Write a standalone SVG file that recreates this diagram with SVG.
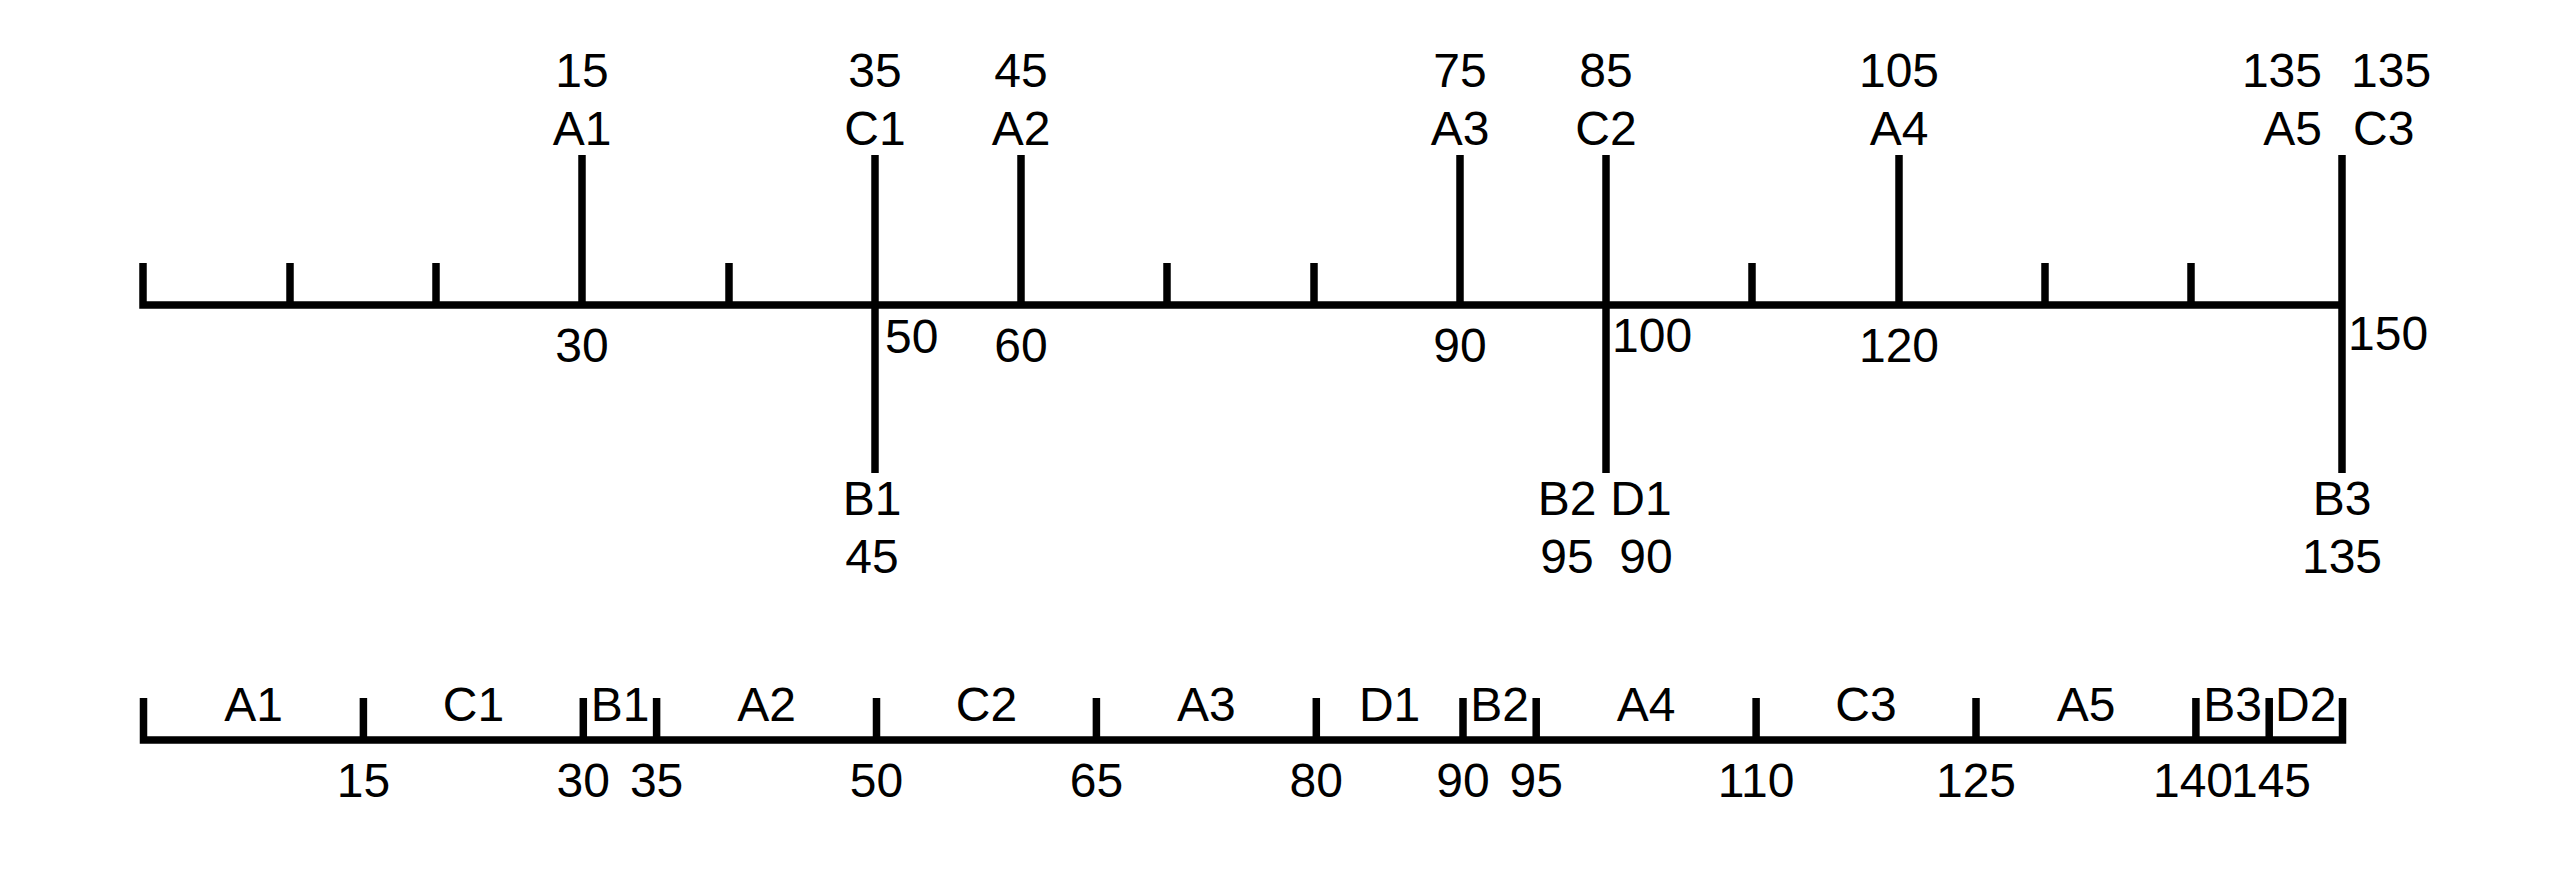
<svg xmlns="http://www.w3.org/2000/svg" width="2560" height="881" viewBox="0 0 2560 881">
<style>
.ln{stroke:#000;stroke-width:7.5;stroke-linejoin:miter;fill:none}
.tk{stroke:#000;stroke-width:7.5;fill:none}
text{font-family:"Liberation Sans",Arial,sans-serif;font-size:48px;fill:#000}
.c{text-anchor:middle}
.e{text-anchor:end}
.s{text-anchor:start}
</style>
<rect width="2560" height="881" fill="#fff"/>
<g id="connectors">
<polyline class="ln" points="143,263 143,305 2342,305"/>
<line class="tk" x1="290" y1="305" x2="290" y2="263"/>
<line class="tk" x1="436" y1="305" x2="436" y2="263"/>
<line class="tk" x1="729" y1="305" x2="729" y2="263"/>
<line class="tk" x1="1167" y1="305" x2="1167" y2="263"/>
<line class="tk" x1="1314" y1="305" x2="1314" y2="263"/>
<line class="tk" x1="1752" y1="305" x2="1752" y2="263"/>
<line class="tk" x1="2045" y1="305" x2="2045" y2="263"/>
<line class="tk" x1="2191" y1="305" x2="2191" y2="263"/>
</g>
<g id="A1"><line class="tk" x1="582" y1="155" x2="582" y2="305"/><text class="c" x="582" y="87">15</text><text class="c" x="582" y="144.5">A1</text><text class="c" x="582" y="362">30</text></g>
<g id="C1"><line class="tk" x1="875" y1="155" x2="875" y2="473"/><text class="c" x="875" y="87">35</text><text class="c" x="875" y="144.5">C1</text><text class="s" x="885" y="352.5">50</text><text class="c" x="872" y="515">B1</text><text class="c" x="872" y="572.5">45</text></g>
<g id="A2"><line class="tk" x1="1021" y1="155" x2="1021" y2="305"/><text class="c" x="1021" y="87">45</text><text class="c" x="1021" y="144.5">A2</text><text class="c" x="1021" y="362">60</text></g>
<g id="A3"><line class="tk" x1="1460" y1="155" x2="1460" y2="305"/><text class="c" x="1460" y="87">75</text><text class="c" x="1460" y="144.5">A3</text><text class="c" x="1460" y="362">90</text></g>
<g id="C2"><line class="tk" x1="1606" y1="155" x2="1606" y2="473"/><text class="c" x="1606" y="87">85</text><text class="c" x="1606" y="144.5">C2</text><text class="s" x="1612" y="352">100</text><text class="c" x="1567" y="515">B2</text><text class="c" x="1567" y="572.5">95</text><text class="c" x="1641" y="515">D1</text><text class="c" x="1646" y="572.5">90</text></g>
<g id="A4"><line class="tk" x1="1899" y1="155" x2="1899" y2="305"/><text class="c" x="1899" y="87">105</text><text class="c" x="1899" y="144.5">A4</text><text class="c" x="1899" y="362">120</text></g>
<g id="A5C3"><line class="tk" x1="2342" y1="155" x2="2342" y2="473"/><text class="e" x="2322" y="87">135</text><text class="e" x="2322" y="144.5">A5</text><text class="s" x="2351" y="87">135</text><text class="s" x="2353" y="144.5">C3</text><text class="s" x="2348" y="350">150</text><text class="c" x="2342" y="515">B3</text><text class="c" x="2342" y="572.5">135</text></g>
<g id="timeline">
<polyline class="ln" points="143.5,698 143.5,740 2342.5,740 2342.5,698"/>
<line class="tk" x1="363.4" y1="740" x2="363.4" y2="698"/>
<line class="tk" x1="583.3" y1="740" x2="583.3" y2="698"/>
<line class="tk" x1="656.6" y1="740" x2="656.6" y2="698"/>
<line class="tk" x1="876.5" y1="740" x2="876.5" y2="698"/>
<line class="tk" x1="1096.4" y1="740" x2="1096.4" y2="698"/>
<line class="tk" x1="1316.3" y1="740" x2="1316.3" y2="698"/>
<line class="tk" x1="1463" y1="740" x2="1463" y2="698"/>
<line class="tk" x1="1536.2" y1="740" x2="1536.2" y2="698"/>
<line class="tk" x1="1756.1" y1="740" x2="1756.1" y2="698"/>
<line class="tk" x1="1976" y1="740" x2="1976" y2="698"/>
<line class="tk" x1="2195.9" y1="740" x2="2195.9" y2="698"/>
<line class="tk" x1="2269.2" y1="740" x2="2269.2" y2="698"/>
<text class="c" x="253.5" y="721">A1</text>
<text class="c" x="473.4" y="721">C1</text>
<text class="c" x="620" y="721">B1</text>
<text class="c" x="766.5" y="721">A2</text>
<text class="c" x="986.5" y="721">C2</text>
<text class="c" x="1206.4" y="721">A3</text>
<text class="c" x="1389.6" y="721">D1</text>
<text class="c" x="1499.6" y="721">B2</text>
<text class="c" x="1646.2" y="721">A4</text>
<text class="c" x="1866" y="721">C3</text>
<text class="c" x="2086" y="721">A5</text>
<text class="c" x="2232.5" y="721">B3</text>
<text class="c" x="2305.8" y="721">D2</text>
<text class="c" x="363.4" y="797">15</text>
<text class="c" x="583.3" y="797">30</text>
<text class="c" x="656.6" y="797">35</text>
<text class="c" x="876.5" y="797">50</text>
<text class="c" x="1096.4" y="797">65</text>
<text class="c" x="1316.3" y="797">80</text>
<text class="c" x="1463" y="797">90</text>
<text class="c" x="1536.2" y="797">95</text>
<text class="c" x="1756.1" y="797">110</text>
<text class="c" x="1976" y="797">125</text>
<text class="c" x="2193" y="797">140</text>
<text class="c" x="2271" y="797">145</text>
</g>
</svg>
